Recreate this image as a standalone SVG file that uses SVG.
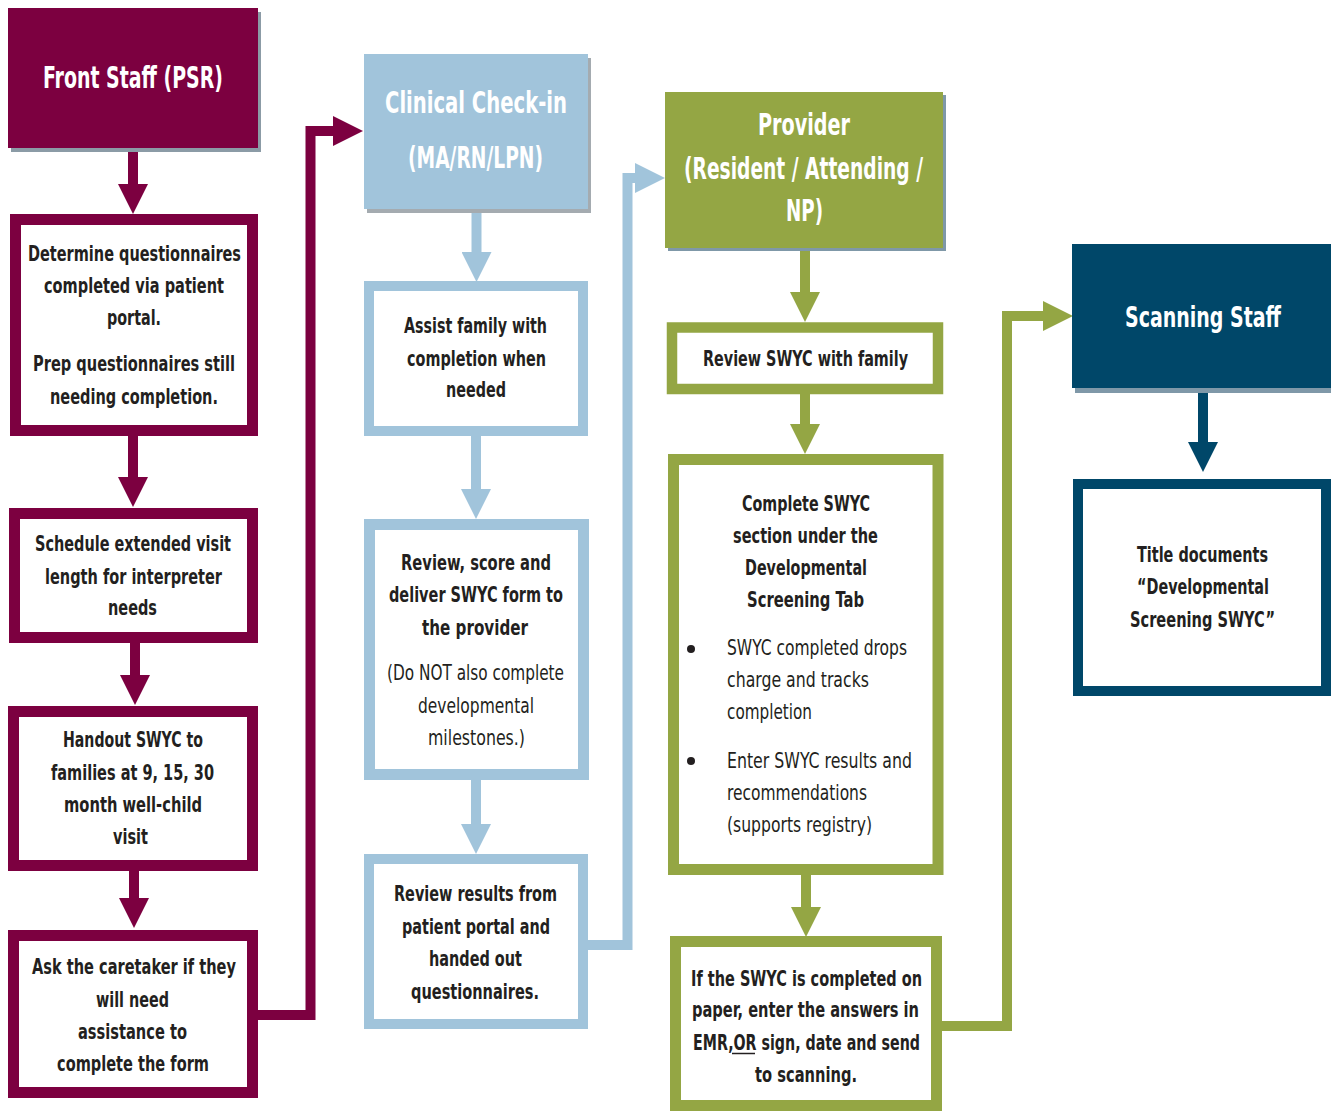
<svg xmlns="http://www.w3.org/2000/svg" width="1331" height="1111" viewBox="0 0 1331 1111">
<style>
text{font-family:'Liberation Sans Narrow','DejaVu Sans Condensed','Liberation Sans',sans-serif;text-anchor:middle}
.h{fill:#fff;font-weight:bold;font-size:31px}
.b{fill:#231f20;font-weight:bold;font-size:22px}
.r{fill:#231f20;font-weight:normal;font-size:22px}
.l{text-anchor:start}
.box{fill:#fff}
.pu{stroke:#7c0040}
.bl{stroke:#a1c4db}
.gr{stroke:#94a644}
.nv{stroke:#004769}
.c{fill:none;stroke-width:10}
</style>
<defs>
<marker id="ap" viewBox="0 0 30 30" refX="0" refY="15" markerWidth="30" markerHeight="30" markerUnits="userSpaceOnUse" orient="auto"><path d="M0,0L30,15L0,30Z" fill="#7c0040"/></marker>
<marker id="ab" viewBox="0 0 30 30" refX="0" refY="15" markerWidth="30" markerHeight="30" markerUnits="userSpaceOnUse" orient="auto"><path d="M0,0L30,15L0,30Z" fill="#a1c4db"/></marker>
<marker id="ag" viewBox="0 0 30 30" refX="0" refY="15" markerWidth="30" markerHeight="30" markerUnits="userSpaceOnUse" orient="auto"><path d="M0,0L30,15L0,30Z" fill="#94a644"/></marker>
<marker id="an" viewBox="0 0 30 30" refX="0" refY="15" markerWidth="30" markerHeight="30" markerUnits="userSpaceOnUse" orient="auto"><path d="M0,0L30,15L0,30Z" fill="#004769"/></marker>
</defs>
<rect width="1331" height="1111" fill="#fff"/>

<g id="connectors">
<path class="c pu" d="M133,148V184" marker-end="url(#ap)"/>
<path class="c pu" d="M133,436V477" marker-end="url(#ap)"/>
<path class="c pu" d="M135,643V675" marker-end="url(#ap)"/>
<path class="c pu" d="M134,871V898" marker-end="url(#ap)"/>
<path class="c pu" d="M258,1015H310.5V131H333" marker-end="url(#ap)"/>
<path class="c bl" d="M476.5,209V252" marker-end="url(#ab)"/>
<path class="c bl" d="M476,436V489" marker-end="url(#ab)"/>
<path class="c bl" d="M476,780V824" marker-end="url(#ab)"/>
<path class="c bl" d="M588,945H627.5V178H635" marker-end="url(#ab)"/>
<path class="c gr" d="M805,248V292" marker-end="url(#ag)"/>
<path class="c gr" d="M805,394V424" marker-end="url(#ag)"/>
<path class="c gr" d="M806,875V907" marker-end="url(#ag)"/>
<path class="c gr" d="M942,1026H1007V316H1043" marker-end="url(#ag)"/>
<path class="c nv" d="M1203,388V442" marker-end="url(#an)"/>
</g>

<g id="front-staff">
<rect x="11" y="12" width="250" height="140" fill="#8b9ba6"/>
<rect x="8" y="8" width="250" height="140" fill="#7c0040"/>
<text class="h" x="133" y="88" textLength="180" lengthAdjust="spacingAndGlyphs">Front Staff (PSR)</text>
</g>
<g id="determine">
<rect class="box pu" x="15.5" y="219.5" width="237" height="211" stroke-width="11"/>
<text class="b" x="134.5" y="261" textLength="213" lengthAdjust="spacingAndGlyphs">Determine questionnaires</text>
<text class="b" x="134" y="293" textLength="180" lengthAdjust="spacingAndGlyphs">completed via patient</text>
<text class="b" x="134" y="325" textLength="54" lengthAdjust="spacingAndGlyphs">portal.</text>
<text class="b" x="134" y="371" textLength="202" lengthAdjust="spacingAndGlyphs">Prep questionnaires still</text>
<text class="b" x="134" y="404" textLength="168" lengthAdjust="spacingAndGlyphs">needing completion.</text>
</g>
<g id="schedule">
<rect class="box pu" x="14.5" y="513.5" width="238" height="124" stroke-width="11"/>
<text class="b" x="133" y="551" textLength="196" lengthAdjust="spacingAndGlyphs">Schedule extended visit</text>
<text class="b" x="133.5" y="584" textLength="177" lengthAdjust="spacingAndGlyphs">length for interpreter</text>
<text class="b" x="132.5" y="615" textLength="49" lengthAdjust="spacingAndGlyphs">needs</text>
</g>
<g id="handout">
<rect class="box pu" x="13.5" y="711.5" width="239" height="154" stroke-width="11"/>
<text class="b" x="133" y="747" textLength="140" lengthAdjust="spacingAndGlyphs">Handout SWYC to</text>
<text class="b" x="132.5" y="780" textLength="163" lengthAdjust="spacingAndGlyphs">families at 9, 15, 30</text>
<text class="b" x="133" y="812" textLength="138" lengthAdjust="spacingAndGlyphs">month well-child</text>
<text class="b" x="130.5" y="844" textLength="35" lengthAdjust="spacingAndGlyphs">visit</text>
</g>
<g id="ask">
<rect class="box pu" x="13.5" y="935.5" width="239" height="157" stroke-width="11"/>
<text class="b" x="134" y="974" textLength="204" lengthAdjust="spacingAndGlyphs">Ask the caretaker if they</text>
<text class="b" x="132.5" y="1007" textLength="73" lengthAdjust="spacingAndGlyphs">will need</text>
<text class="b" x="132.5" y="1039" textLength="109" lengthAdjust="spacingAndGlyphs">assistance to</text>
<text class="b" x="133" y="1071" textLength="152" lengthAdjust="spacingAndGlyphs">complete the form</text>
</g>

<g id="clinical-check-in">
<rect x="367" y="58" width="224" height="155" fill="#a4abb0"/>
<rect x="364" y="54" width="224" height="155" fill="#a1c4db"/>
<text class="h" x="476" y="113" textLength="182" lengthAdjust="spacingAndGlyphs">Clinical Check-in</text>
<text class="h" x="475.5" y="168" textLength="135" lengthAdjust="spacingAndGlyphs">(MA/RN/LPN)</text>
</g>
<g id="assist">
<rect class="box bl" x="369" y="286" width="214" height="145" stroke-width="10"/>
<text class="b" x="475.5" y="333" textLength="143" lengthAdjust="spacingAndGlyphs">Assist family with</text>
<text class="b" x="476.5" y="366" textLength="139" lengthAdjust="spacingAndGlyphs">completion when</text>
<text class="b" x="476" y="397" textLength="60" lengthAdjust="spacingAndGlyphs">needed</text>
</g>
<g id="review-score">
<rect class="box bl" x="369.5" y="524.5" width="214" height="250" stroke-width="11"/>
<text class="b" x="476" y="570" textLength="150" lengthAdjust="spacingAndGlyphs">Review, score and</text>
<text class="b" x="476" y="602" textLength="174" lengthAdjust="spacingAndGlyphs">deliver SWYC form to</text>
<text class="b" x="475" y="635" textLength="106" lengthAdjust="spacingAndGlyphs">the provider</text>
<text class="r" x="475.5" y="680" textLength="177" lengthAdjust="spacingAndGlyphs">(Do NOT also complete</text>
<text class="r" x="476" y="713" textLength="116" lengthAdjust="spacingAndGlyphs">developmental</text>
<text class="r" x="476.5" y="745" textLength="97" lengthAdjust="spacingAndGlyphs">milestones.)</text>
</g>
<g id="review-results">
<rect class="box bl" x="369" y="859" width="214" height="165" stroke-width="10"/>
<text class="b" x="475.5" y="901" textLength="163" lengthAdjust="spacingAndGlyphs">Review results from</text>
<text class="b" x="476" y="934" textLength="148" lengthAdjust="spacingAndGlyphs">patient portal and</text>
<text class="b" x="475.5" y="966" textLength="93" lengthAdjust="spacingAndGlyphs">handed out</text>
<text class="b" x="475" y="999" textLength="128" lengthAdjust="spacingAndGlyphs">questionnaires.</text>
</g>

<g id="provider">
<rect x="668" y="95" width="278" height="156" fill="#7f98a8"/>
<rect x="665" y="92" width="278" height="156" fill="#94a644"/>
<text class="h" x="804" y="135" textLength="92" lengthAdjust="spacingAndGlyphs">Provider</text>
<text class="h" x="803.5" y="179" textLength="239" lengthAdjust="spacingAndGlyphs">(Resident / Attending /</text>
<text class="h" x="804.5" y="221" textLength="37" lengthAdjust="spacingAndGlyphs">NP)</text>
</g>
<g id="review-swyc">
<rect class="box gr" x="672" y="327.5" width="266" height="61.5" stroke-width="10.5"/>
<text class="b" x="805.5" y="366" textLength="205" lengthAdjust="spacingAndGlyphs">Review SWYC with family</text>
</g>
<g id="complete-swyc">
<rect class="box gr" x="673.5" y="459.5" width="264.5" height="410" stroke-width="11"/>
<text class="b" x="806" y="511" textLength="128" lengthAdjust="spacingAndGlyphs">Complete SWYC</text>
<text class="b" x="805.5" y="543" textLength="145" lengthAdjust="spacingAndGlyphs">section under the</text>
<text class="b" x="806" y="575" textLength="122" lengthAdjust="spacingAndGlyphs">Developmental</text>
<text class="b" x="805.5" y="607" textLength="117" lengthAdjust="spacingAndGlyphs">Screening Tab</text>
<circle cx="691" cy="649" r="4" fill="#231f20"/>
<text class="r l" x="727" y="655" textLength="180" lengthAdjust="spacingAndGlyphs">SWYC completed drops</text>
<text class="r l" x="727" y="687" textLength="142" lengthAdjust="spacingAndGlyphs">charge and tracks</text>
<text class="r l" x="727" y="719" textLength="85" lengthAdjust="spacingAndGlyphs">completion</text>
<circle cx="691" cy="761" r="4" fill="#231f20"/>
<text class="r l" x="727" y="768" textLength="185" lengthAdjust="spacingAndGlyphs">Enter SWYC results and</text>
<text class="r l" x="727" y="800" textLength="140" lengthAdjust="spacingAndGlyphs">recommendations</text>
<text class="r l" x="727" y="832" textLength="145" lengthAdjust="spacingAndGlyphs">(supports registry)</text>
</g>
<g id="if-paper">
<rect class="box gr" x="675.5" y="941.5" width="261" height="164" stroke-width="11"/>
<text class="b" x="806.5" y="986" textLength="231" lengthAdjust="spacingAndGlyphs">If the SWYC is completed on</text>
<text class="b" x="805.5" y="1017" textLength="227" lengthAdjust="spacingAndGlyphs">paper, enter the answers in</text>
<text class="b" x="806.5" y="1050" textLength="227" lengthAdjust="spacingAndGlyphs">EMR,OR sign, date and send</text>
<line x1="732" y1="1053.5" x2="755" y2="1053.5" stroke="#231f20" stroke-width="1.5"/>
<text class="b" x="806" y="1082" textLength="102" lengthAdjust="spacingAndGlyphs">to scanning.</text>
</g>

<g id="scanning-staff">
<rect x="1075" y="248" width="256" height="145" fill="#7f98a8"/>
<rect x="1072" y="244" width="259" height="144" fill="#004769"/>
<text class="h" x="1203" y="327" font-size="28" style="font-size:28px" textLength="156" lengthAdjust="spacingAndGlyphs">Scanning Staff</text>
</g>
<g id="title-documents">
<rect class="box nv" x="1078" y="484" width="248" height="207" stroke-width="10"/>
<text class="b" x="1202.5" y="562" textLength="131" lengthAdjust="spacingAndGlyphs">Title documents</text>
<text class="b" x="1203" y="594" textLength="132" lengthAdjust="spacingAndGlyphs">“Developmental</text>
<text class="b" x="1202.5" y="627" textLength="145" lengthAdjust="spacingAndGlyphs">Screening SWYC”</text>
</g>
</svg>
